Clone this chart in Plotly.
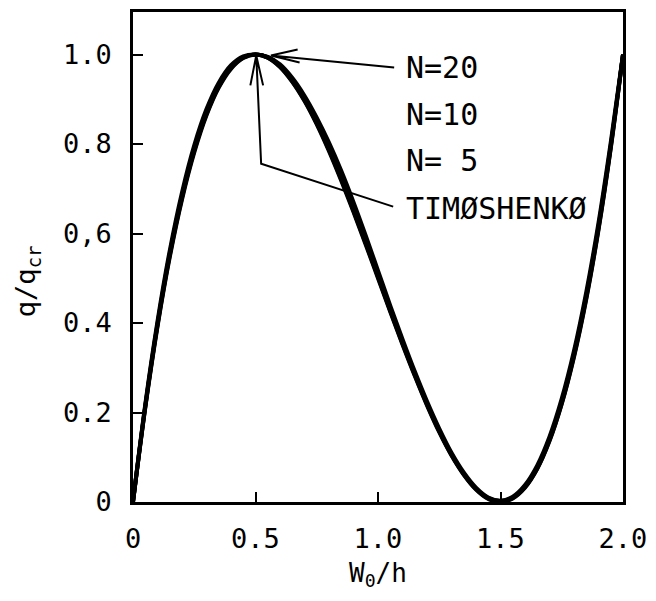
import plotly.graph_objects as go

# Deflection ratio W0/h
w0_h = [0.00, 0.05, 0.10, 0.15, 0.20, 0.25, 0.30, 0.35, 0.40, 0.45, 0.50,
        0.55, 0.60, 0.65, 0.70, 0.75, 0.80, 0.85, 0.90, 0.95, 1.00,
        1.05, 1.10, 1.15, 1.20, 1.25, 1.30, 1.35, 1.40, 1.45, 1.50,
        1.55, 1.60, 1.65, 1.70, 1.75, 1.80, 1.85, 1.90, 1.95, 2.00]

# Load ratio q/q_cr
timoshenko = [0.000, 0.210, 0.392, 0.547, 0.676, 0.781, 0.864, 0.926, 0.968, 0.992, 1.000,
              0.993, 0.972, 0.939, 0.896, 0.844, 0.784, 0.718, 0.648, 0.575, 0.500,
              0.425, 0.352, 0.282, 0.216, 0.156, 0.104, 0.061, 0.028, 0.007, 0.000,
              0.008, 0.032, 0.074, 0.136, 0.219, 0.324, 0.453, 0.608, 0.790, 1.000]
n20 = [0.000, 0.212, 0.395, 0.551, 0.680, 0.785, 0.867, 0.928, 0.970, 0.993, 1.000,
       0.993, 0.973, 0.940, 0.898, 0.846, 0.787, 0.721, 0.651, 0.578, 0.503,
       0.427, 0.354, 0.284, 0.218, 0.158, 0.105, 0.062, 0.029, 0.008, 0.001,
       0.009, 0.033, 0.075, 0.138, 0.221, 0.327, 0.456, 0.611, 0.793, 1.000]
n10 = [0.000, 0.214, 0.398, 0.555, 0.684, 0.789, 0.871, 0.931, 0.972, 0.994, 1.000,
       0.994, 0.975, 0.943, 0.901, 0.850, 0.792, 0.727, 0.657, 0.583, 0.507,
       0.431, 0.357, 0.287, 0.220, 0.160, 0.107, 0.063, 0.030, 0.009, 0.002,
       0.010, 0.035, 0.078, 0.141, 0.225, 0.331, 0.461, 0.616, 0.797, 1.000]
n5 = [0.000, 0.218, 0.404, 0.562, 0.692, 0.797, 0.878, 0.937, 0.976, 0.996, 1.000,
      0.995, 0.978, 0.948, 0.908, 0.859, 0.803, 0.740, 0.670, 0.595, 0.517,
      0.439, 0.364, 0.292, 0.225, 0.164, 0.110, 0.066, 0.032, 0.010, 0.003,
      0.012, 0.038, 0.082, 0.146, 0.231, 0.338, 0.469, 0.624, 0.804, 1.000]

series = [("N=20", n20), ("N=10", n10), ("N= 5", n5), ("TIMOSHENKO", timoshenko)]

x_ticks = [0, 0.5, 1.0, 1.5, 2.0]
x_ticktext = ["0", "0.5", "1.0", "1.5", "2.0"]
y_ticks = [0, 0.2, 0.4, 0.6, 0.8, 1.0]
y_ticktext = ["0", "0.2", "0.4", "0,6", "0.8", "1.0"]

FONT = "DejaVu Sans Mono"

fig = go.Figure()
for name, vals in series:
    fig.add_trace(go.Scatter(x=w0_h, y=vals, mode="lines", name=name,
                             line=dict(color="black", width=4, shape="spline"),
                             showlegend=False))

# Annotation labels
labels = [("N=20", 0.971), ("N=10", 0.867), ("N= 5", 0.764), ("TIMØSHENKØ", 0.656)]
for txt, yy in labels:
    fig.add_annotation(x=1.107, y=yy, xref="x", yref="y", text=txt, showarrow=False,
                       xanchor="left", yanchor="middle",
                       font=dict(family=FONT, size=30, color="black"))

# Leader lines with open arrowheads
line_style = dict(color="black", width=2)
fig.add_shape(type="path", xref="x", yref="y",
              path="M 1.066 0.971 L 0.563 0.998 M 0.672 1.011 L 0.563 0.998 L 0.680 0.982",
              line=line_style)
fig.add_shape(type="path", xref="x", yref="y",
              path="M 1.062 0.660 L 0.523 0.756 L 0.503 0.998 M 0.479 0.931 L 0.503 0.998 L 0.531 0.931",
              line=line_style)

# Axis titles
fig.add_annotation(x=0.5, y=-0.148, xref="paper", yref="paper",
                   text="W<sub>0</sub>/h", showarrow=False,
                   xanchor="center", yanchor="middle",
                   font=dict(family=FONT, size=26, color="black"))
fig.add_annotation(x=-0.215, y=0.45, xref="paper", yref="paper",
                   text="q/q<sub>cr</sub>", showarrow=False, textangle=-90,
                   xanchor="center", yanchor="middle",
                   font=dict(family=FONT, size=27, color="black"))

axis_common = dict(showline=True, linecolor="black", linewidth=2.5, mirror=True,
                   ticks="inside", ticklen=10, tickwidth=2, tickcolor="black",
                   showgrid=False, zeroline=False,
                   tickfont=dict(family=FONT, size=27, color="black"))

fig.update_xaxes(range=[0, 2.0], tickvals=x_ticks, ticktext=x_ticktext,
                 ticklabelstandoff=11, **axis_common)
fig.update_yaxes(range=[0, 1.095], tickvals=y_ticks, ticktext=y_ticktext,
                 ticklabelstandoff=13, **axis_common)

fig.update_layout(width=656, height=601,
                  margin=dict(l=133, r=26, t=9, b=99),
                  plot_bgcolor="white", paper_bgcolor="white")

fig.write_html("out.html")
